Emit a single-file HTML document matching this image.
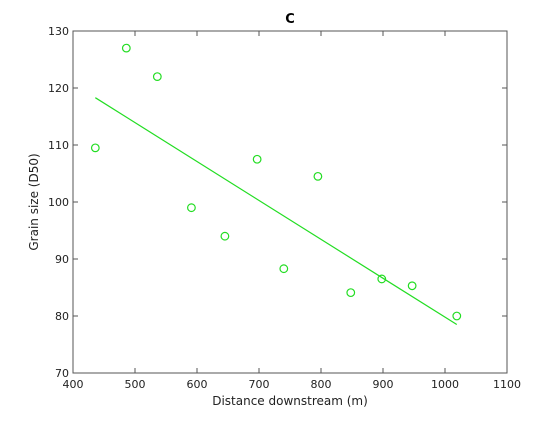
<!DOCTYPE html>
<html><head><meta charset="utf-8"><style>
body{margin:0;background:#fff;}
svg text{font-family:"DejaVu Sans","Liberation Sans",sans-serif;}
</style></head><body>
<svg id="chart" width="560" height="420" xmlns="http://www.w3.org/2000/svg">
<rect width="560" height="420" fill="#fff"/>
<g id="axes"></g>
<g id="marks"></g>
</svg>
<script>
const xVals=[436,486,536,591,645,697,740,795,848,898,947,1019];
const yVals=[109.5,127,122,99,94,107.5,88.3,104.5,84.1,86.5,85.3,80];
const fitX=[436,1019];
const fitY=[118.3,78.5];
const xTicks=[400,500,600,700,800,900,1000,1100];
const yTicks=[70,80,90,100,110,120,130];
const L=73,R=507,T=31,B=373;
const sx=v=>L+(v-400)/700*(R-L);
const sy=v=>B-(v-70)/60*(B-T);
const NS="http://www.w3.org/2000/svg";
function mk(tag,attrs,parent,text){const e=document.createElementNS(NS,tag);for(const k in attrs)e.setAttribute(k,attrs[k]);if(text!==undefined)e.textContent=text;parent.appendChild(e);return e;}
const ax=document.getElementById('axes'),mg=document.getElementById('marks');
const box=mk('rect',{x:L,y:T,width:R-L,height:B-T,fill:'none',stroke:'#555','stroke-width':1},ax);


xTicks.forEach(t=>{const x=sx(t);
mk('line',{x1:x,y1:B,x2:x,y2:B-5,stroke:'#555'},ax);mk('line',{x1:x,y1:T,x2:x,y2:T+5,stroke:'#555'},ax);
const tx=mk('text',{x:x,y:B+15,'font-size':11,'text-anchor':'middle',fill:'#222'},ax,String(t));

});
yTicks.forEach(t=>{const y=sy(t);
mk('line',{x1:L,y1:y,x2:L+5,y2:y,stroke:'#555'},ax);mk('line',{x1:R,y1:y,x2:R-5,y2:y,stroke:'#555'},ax);
const tx=mk('text',{x:L-4,y:y+4,'font-size':11,'text-anchor':'end',fill:'#222'},ax,String(t));

});
const title=mk('text',{x:(L+R)/2,y:23,'font-size':13,'font-weight':'bold','text-anchor':'middle'},ax,'C');


const xl=mk('text',{x:(L+R)/2,y:405,'font-size':12,'text-anchor':'middle',fill:'#222'},ax,'Distance downstream (m)');


const yl=mk('text',{x:0,y:0,'font-size':12,'text-anchor':'middle',fill:'#222',transform:`translate(38,${(T+B)/2}) rotate(-90)`},ax,'Grain size (D50)');


const fl=mk('line',{x1:sx(fitX[0]),y1:sy(fitY[0]),x2:sx(fitX[1]),y2:sy(fitY[1]),stroke:'#22dd22','stroke-width':1.2},mg);


xVals.forEach((v,i)=>{const c=mk('circle',{cx:sx(v),cy:sy(yVals[i]),r:3.8,fill:'none',stroke:'#22dd22','stroke-width':1.2},mg);

});
</script>
</body></html>
